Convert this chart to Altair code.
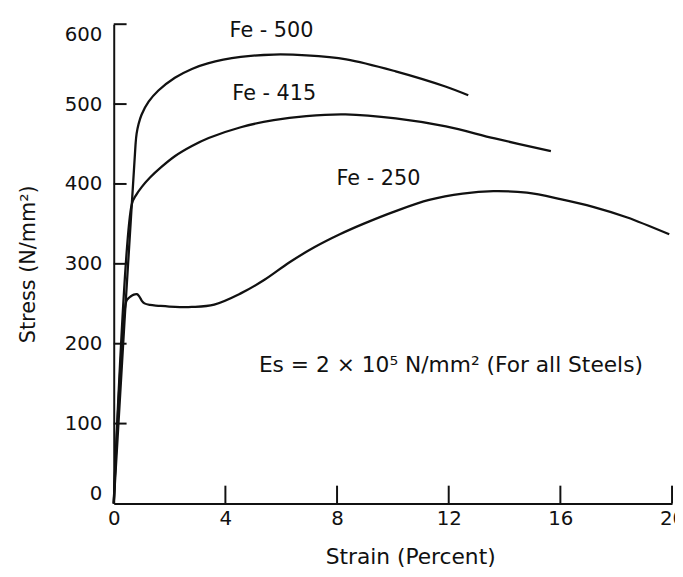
import altair as alt
import pandas as pd

# ---- data ----
fe250_strain = [0, 0.44, 0.5, 0.6, 0.72, 0.83, 0.92, 1.0, 1.1, 1.3, 1.6, 2.2, 2.8, 3.6, 4.55, 5.4, 6.3,
                7.2, 8.1, 8.94, 10.1, 11.3, 12.5, 13.6, 14.8, 16.0, 17.2, 18.4, 19.9]
fe250_stress = [0, 252, 256, 259, 261.5, 262, 259, 254, 250.5, 248.5, 247.5, 246, 246, 249, 263, 280, 302,
                321, 337, 350, 366, 380, 388, 391, 389, 381, 371, 358, 337]

fe415_strain = [0, 0.65, 0.8, 1.0, 1.3, 1.7, 2.2, 2.8, 3.4, 4.55, 5.73, 6.9, 8.3, 10.1, 11.9, 13.65, 15.66]
fe415_stress = [0, 375, 386, 396, 408, 421, 435, 447.5, 457.5, 471, 480, 485, 487, 482, 472, 457, 441]

fe500_strain = [0, 0.78, 0.82, 0.89, 1.0, 1.25, 1.6, 2.19, 2.8, 3.37, 4.55, 5.73, 6.9, 8.33, 10.1, 11.88, 12.7]
fe500_stress = [0, 449, 463, 475, 487, 503, 517, 533, 544, 551, 559, 562, 561, 556, 541, 522, 511]

series_names = ["Fe - 250", "Fe - 415", "Fe - 500"]

label_text = ["Fe - 500", "Fe - 415", "Fe - 250"]
label_strain = [4.15, 4.25, 7.98]
label_stress = [592, 512, 406]

note_text = ["Es = 2 × 10⁵ N/mm² (For all Steels)"]
note_strain = [5.2]
note_stress = [173]

x_tick_labels = [0, 4, 8, 12, 16, 20]
x_tick_marks = [4, 8, 12, 16, 20]
y_tick_labels = [0, 100, 200, 300, 400, 500, 600]
y_tick_marks = [100, 200, 300, 400, 500, 600]

# ---- tables ----
rows = []
for name, xs, ys in zip(series_names,
                        [fe250_strain, fe415_strain, fe500_strain],
                        [fe250_stress, fe415_stress, fe500_stress]):
    for xv, yv in zip(xs, ys):
        rows.append({"series": name, "strain": xv, "stress": yv})
curves = pd.DataFrame(rows)
labels = pd.DataFrame({"label": label_text, "strain": label_strain, "stress": label_stress})
note = pd.DataFrame({"label": note_text, "strain": note_strain, "stress": note_stress})
xt = pd.DataFrame({"v": x_tick_marks})
yt = pd.DataFrame({"v": y_tick_marks})

FONT = "DejaVu Sans"
INK = "#111111"
xs_ = alt.Scale(domain=[0, 20], nice=False, zero=False)
ys_ = alt.Scale(domain=[0, 600], nice=False)

lines = alt.Chart(curves).mark_line(color=INK, strokeWidth=2.3, interpolate="catmull-rom").encode(
    x=alt.X("strain:Q", scale=xs_,
            axis=alt.Axis(title="Strain (Percent)", values=x_tick_labels, ticks=False, grid=False,
                          labelFlush=False, labelPadding=5, titlePadding=19, titleX=300,
                          domainColor=INK, domainWidth=2, labelColor=INK, titleColor=INK,
                          labelFontSize=20, titleFontSize=22, titleFontWeight="normal",
                          labelFont=FONT, titleFont=FONT)),
    y=alt.Y("stress:Q", scale=ys_,
            axis=alt.Axis(title="Stress (N/mm²)", values=y_tick_labels, ticks=False, grid=False,
                          labelFlush=True, labelPadding=12, titlePadding=26,
                          domainColor=INK, domainWidth=2, labelColor=INK, titleColor=INK,
                          labelFontSize=20, titleFontSize=21, titleFontWeight="normal",
                          labelFont=FONT, titleFont=FONT)),
    detail="series:N",
)

ytick = alt.Chart(yt).mark_rule(color=INK, strokeWidth=2).encode(
    y=alt.Y("v:Q", scale=ys_), x=alt.value(0), x2=alt.value(13))
xtick = alt.Chart(xt).mark_rule(color=INK, strokeWidth=2).encode(
    x=alt.X("v:Q", scale=xs_), y=alt.value(485), y2=alt.value(467))

text = alt.Chart(labels).mark_text(align="left", baseline="middle", fontSize=21, font=FONT, color=INK).encode(
    x=alt.X("strain:Q", scale=xs_), y=alt.Y("stress:Q", scale=ys_), text="label:N")
note_layer = alt.Chart(note).mark_text(align="left", baseline="middle", fontSize=22, font=FONT, color=INK).encode(
    x=alt.X("strain:Q", scale=xs_), y=alt.Y("stress:Q", scale=ys_), text="label:N")

chart = alt.layer(lines, ytick, xtick, text, note_layer).properties(
    width=565, height=485,
    autosize=alt.AutoSizeParams(type="none"),
    padding={"left": 107, "top": 13, "right": 3, "bottom": 69},
    background="white",
).configure_view(stroke=None)

chart.save("out.html", embed_options={"renderer": "svg", "actions": False})
